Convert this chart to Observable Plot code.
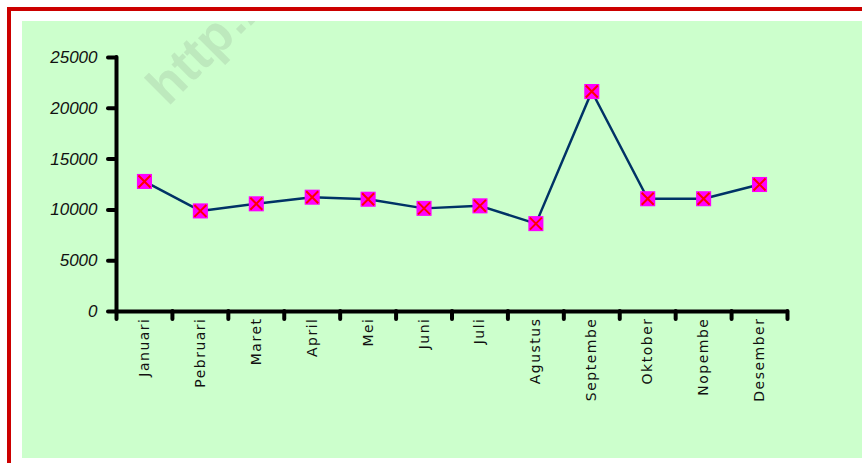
<!DOCTYPE html>
<html>
<head>
<meta charset="utf-8">
<script src="https://cdn.jsdelivr.net/npm/d3@7"></script>
<script src="https://cdn.jsdelivr.net/npm/@observablehq/plot@0.6"></script>
<style>
  html, body { margin: 0; padding: 0; background: #fff; }
  #wrap { position: relative; width: 862px; height: 463px; overflow: hidden; }
  #frame { position: absolute; left: 7px; top: 7px; width: 900px; height: 500px;
           border-left: 4px solid #cc0000; border-top: 4px solid #cc0000; }
  #bg { position: absolute; left: 22px; top: 21px; right: 0; bottom: 5px; background: #ccffcc; overflow: hidden; }
  #bg svg { position: absolute; left: 0; top: 0; }
  #chart { position: absolute; left: 0; top: 0; }
  #chart svg { background: transparent; }
</style>
</head>
<body>
<div id="wrap">
  <div id="frame"></div>
  <div id="bg"></div>
  <div id="chart"></div>
</div>
<script>
const months = ["Januari","Pebruari","Maret","April","Mei","Juni","Juli","Agustus","September","Oktober","Nopember","Desember"];
const tickLabels = ["Januari","Pebruari","Maret","April","Mei","Juni","Juli","Agustus","Septembe","Oktober","Nopembe","Desember"];
const values = [12800, 9900, 10600, 11250, 11050, 10150, 10400, 8650, 21650, 11100, 11100, 12500];
const yTicks = [0, 5000, 10000, 15000, 20000, 25000];
const watermark = "http://";

// faint watermark on the green background (clipped by the green area)
const wm = d3.select("#bg").append("svg").attr("width", 840).attr("height", 437);
wm.append("text")
  .attr("transform", "translate(146,86) rotate(-45)")
  .attr("font-family", "Liberation Sans, Arial, sans-serif")
  .attr("font-weight", "bold")
  .attr("font-size", 52)
  .attr("fill", "#bde9bd")
  .text(watermark);

const data = months.map((m, i) => ({month: m, label: tickLabels[i], pos: i + 0.5, value: values[i]}));
const xEdges = d3.range(months.length + 1);

const plot = Plot.plot({
  width: 862,
  height: 463,
  marginLeft: 116,
  marginRight: 75,
  marginTop: 57,
  marginBottom: 152,
  style: {background: "transparent", overflow: "visible"},
  x: {type: "linear", domain: [0, months.length], axis: null},
  y: {type: "linear", domain: [0, 25000], axis: null},
  marks: [
    Plot.ruleY([0], {x1: 0, x2: months.length, stroke: "black", strokeWidth: 4, strokeLinecap: "round"}),
    Plot.ruleX([0], {y1: 0, y2: 25000, stroke: "black", strokeWidth: 4, strokeLinecap: "round"}),
    Plot.axisY({ticks: yTicks, tickSize: 8, tickPadding: 11, stroke: "black", strokeWidth: 4, strokeLinecap: "round",
      fontSize: 17, fontStyle: "italic", fontFamily: "Liberation Sans, Arial, sans-serif", fill: "#111",
      tickFormat: d => String(d), label: null}),
    Plot.axisX({ticks: xEdges, tickSize: 8, stroke: "black", strokeWidth: 4, strokeLinecap: "round",
      tickFormat: () => "", label: null}),
    Plot.text(data, {x: "pos", y: 0, text: "label", rotate: -90, textAnchor: "end", lineAnchor: "middle",
      dy: 6, fontSize: 14, fontFamily: "DejaVu Sans, Verdana, sans-serif", fill: "#111"}),
    Plot.line(data, {x: "pos", y: "value", stroke: "#003366", strokeWidth: 2.5}),
    Plot.dot(data, {x: "pos", y: "value", symbol: "square", r: 8.5, fill: "#ff00ff", stroke: "none"}),
    Plot.dot(data, {x: "pos", y: "value", symbol: "times", r: 5.5, stroke: "#ff0000", strokeWidth: 2, fill: "none"})
  ]
});
document.getElementById("chart").appendChild(plot);
d3.select(plot).selectAll('g[aria-label="text"] text').filter(function() {
  return tickLabels.includes(this.textContent);
}).style("letter-spacing", "1.5px");
</script>
</body>
</html>
